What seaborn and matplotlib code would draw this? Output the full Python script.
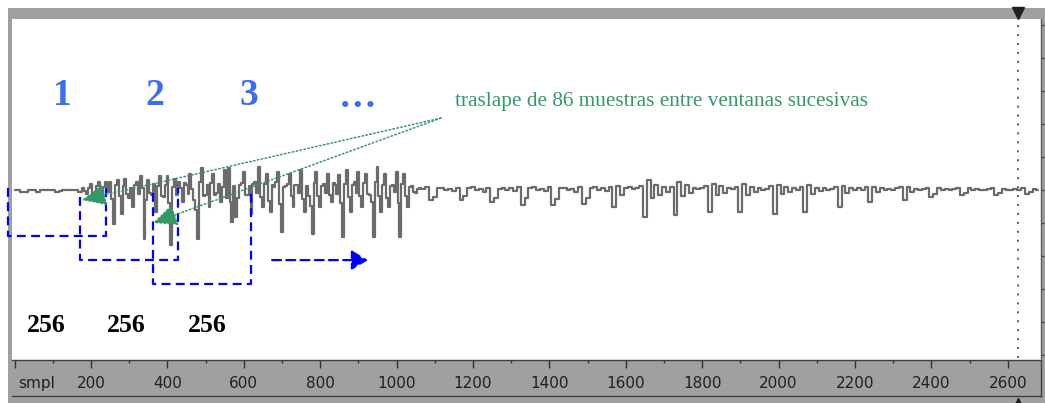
import matplotlib
matplotlib.use("Agg")
import matplotlib.pyplot as plt
import seaborn as sns
import pandas as pd
from matplotlib.patches import Rectangle
from matplotlib.ticker import FixedLocator, FixedFormatter

# ---------------------------------------------------------------- data
# int16 amplitude units; the burst is stored at a finer sample step
head_step, burst_step, tail_step = 10, 5, 10

amplitude_head = [  # samples 0..170, silence before the onset
    0, 0, -300, -400, 0, 100, -400, 0, 0, 100, 0, -400, -200, 0, 100, 0, 0, -400,
]
amplitude_burst = [  # samples 180..1055, voiced burst
    300, -200, -800, 400, 1200, -600, -1500, 800, 1500, -900,
    -2000, 600, 1600, -300, 1500, -1800, -6600, 900, 2000, -1200,
    -4600, 700, 2100, -800, -1500, 400, -3300, 1000, 1500, -700,
    2700, 300, -9500, -2000, 1900, -600, -1000, 1200, -4300, 800,
    2700, -1100, -1400, 900, 2700, -2500, -10700, 600, 2100, -900,
    1500, 400, -2300, 1300, 1000, -800, 3100, 200, -2000, -3800,
    -9500, 1500, 4300, -1200, -1000, 900, -3300, 1400, 3100, -900,
    -500, 1100, -2300, 600, 3900, -1500, 4300, -2400, -6200, 800,
    -5300, -1600, 1000, 1400, 3500, -900, -1000, 700, -4600, 1200,
    1500, -500, 4500, -1300, -3300, 1100, 3100, -2200, -4300, 900,
    500, 1500, 3500, -2800, -8100, 600, 800, 1200, 3100, -1100,
    -3300, 900, 1000, -600, 3900, -1800, -4300, 700, -1200, -3000,
    -8500, 1400, 3500, -1200, -3300, 800, 1200, -500, 3100, -1000,
    -2300, 1300, 1000, -700, 2900, -2600, -9100, 1200, 3900, -1400,
    -4300, 900, 1500, -600, 3500, -1100, -3300, 1300, 3100, -800,
    -1000, -2400, -9100, 1600, 4500, -1200, -4300, 1000, 3100, -1500,
    -3300, 800, 1000, -400, 3500, -2600, -9100, 1100, 3100, -1200,
    -3300, 600, 800, -300, -500, 200,
]
amplitude_tail = [  # samples 1060..2680, decaying tail with periodic pulses
    300, 200, 500, -1900, -1400, 300, 400, 0, 200, -200,
    400, -1900, -1200, 300, 500, 100, 200, -300, 400, -2300,
    -1500, 200, 400, 0, 300, -200, 500, -2900, -1600, 300,
    500, 100, 200, -200, 500, -2900, -1700, 300, 400, 0,
    200, -300, 600, -2700, -1500, 400, 500, 100, 300, -200,
    600, -3300, 800, -900, 300, 500, 200, 300, 700, -5200,
    1900, -1500, 1000, -1000, 600, -300, 500, -4800, 1500, -1200,
    900, -600, 400, 200, 300, 800, -4300, 1200, -1000, 700,
    -500, 300, 200, 600, -4300, 1100, -900, 600, -300, 300,
    100, 200, 700, -4700, 1000, -800, 500, -300, 300, 100,
    600, -4300, 900, -700, 400, -200, 300, 100, 200, 600,
    -3300, 700, -600, 300, 0, 300, 100, 500, -2300, 600,
    -400, 300, 100, 200, 0, 300, 500, -1900, 500, -300,
    200, 0, 200, 400, -1400, -800, 300, 100, 200, 0,
    200, 400, -1000, -600, 300, 0, 200, 100, 0, 200,
    400, -1000, -500, 200, 100, 0, 200, 0, 400, -800,
    -300, 200, 100,
]

burst_start = len(amplitude_head) * head_step
tail_start = burst_start + len(amplitude_burst) * burst_step
samples = ([i * head_step for i in range(len(amplitude_head))]
           + [burst_start + i * burst_step for i in range(len(amplitude_burst))]
           + [tail_start + i * tail_step for i in range(len(amplitude_tail))])
amplitude = amplitude_head + amplitude_burst + amplitude_tail

# analysis windows: start sample, length, side heights and depth
window_len = 256
window_start = [-17, 171, 362]
window_top_left = [390, -1360, -580]
window_top_right = [390, 390, -580]
window_bottom = [-8900, -13600, -18200]
window_labels = ["1", "2", "3"]
overlap = 86

# ruler ticks
major_ticks = [0, 200, 400, 600, 800, 1000, 1200, 1400, 1600, 1800, 2000,
               2200, 2400, 2600]
major_labels = ["", "200", "400", "600", "800", "1000", "1200", "1400",
                "1600", "1800", "2000", "2200", "2400", "2600"]
minor_ticks = [100, 300, 500, 700, 900, 1100, 1300, 1500, 1700, 1900, 2100,
               2300, 2500]
cursor_sample = 2627

# ---------------------------------------------------------------- figure
sns.set_theme(style="white")
plt.rcParams["font.family"] = ["DejaVu Sans"]

W, H = 1045, 403
fig = plt.figure(figsize=(W / 100, H / 100), dpi=100)
fig.patch.set_facecolor("white")

FRAME = "#a0a0a0"


def frame_box(x0, y0, x1, y1, color=FRAME):
    fig.patches.append(Rectangle((x0 / W, 1 - y1 / H), (x1 - x0) / W,
                                 (y1 - y0) / H, transform=fig.transFigure,
                                 facecolor=color, edgecolor="none",
                                 zorder=-5))


# window frame of the editor
frame_box(8, 8, W, 19)
frame_box(8, 8, 12, H)
frame_box(1041, 8, W, H)
frame_box(8, 396, W, H)
frame_box(12, 19, 1041, 20.5, "#e4e4e4")
frame_box(12, 19, 13.5, 358, "#e4e4e4")

XLIM = (-7, 2687)
YLIM = (-32600, 33200)

ax = fig.add_axes([12 / W, 1 - 358 / H, 1029 / W, 339 / H])
ax.set_facecolor("white")
ax.set_xlim(*XLIM)
ax.set_ylim(*YLIM)
for s in ax.spines.values():
    s.set_visible(False)
ax.spines["right"].set_visible(True)
ax.spines["right"].set_color("#5a5a5a")
ax.spines["right"].set_linewidth(1)
ax.set_xticks([])
ax.yaxis.tick_right()
ax.set_yticks([-32000, -25600, -19200, -12800, -6400, 0, 6400, 12800,
               19200, 25600, 32000])
ax.tick_params(axis="y", direction="out", length=2.5, width=1,
               color="#404040", labelright=False, right=True, left=False)

df = pd.DataFrame({"sample": samples, "amplitude": amplitude})
sns.lineplot(data=df, x="sample", y="amplitude", ax=ax, color="#6b6b6b",
             lw=1.6, drawstyle="steps-mid", estimator=None, sort=False)
ax.set_xlabel("")
ax.set_ylabel("")

# cursor
ax.axvline(cursor_sample, color="#5a5a5a", lw=1.4, ls=(0, (1, 3.6)))
ax.plot([cursor_sample], [34400], marker="v", ms=8, color="#202020",
        clip_on=False)

# analysis windows
BLUE = "#0000ff"
DASH = (0, (4, 2.4))
for start, tl, tr, bot in zip(window_start, window_top_left,
                              window_top_right, window_bottom):
    ax.plot([start, start, start + window_len, start + window_len],
            [tl, bot, bot, tr], color=BLUE, lw=1.6, ls=DASH, clip_on=False,
            solid_capstyle="butt", dash_capstyle="butt")

ax.annotate("", xy=(925, window_bottom[1]), xytext=(674, window_bottom[1]),
            arrowprops=dict(arrowstyle="-|>,head_length=0.5,head_width=0.3",
                            color=BLUE, lw=1.6, ls=DASH, mutation_scale=20,
                            shrinkA=0, shrinkB=0))

NUM_BLUE = "#3a6cf5"
for xpos, lab in zip([124, 368, 614], window_labels):
    ax.text(xpos, 18400, lab, color=NUM_BLUE, fontsize=27, fontweight="bold",
            family="Liberation Serif", ha="center", va="center")
ax.text(899, 16100, "\u2026", color=NUM_BLUE, fontsize=27, fontweight="bold",
        family="Liberation Serif", ha="center", va="baseline")

for xpos in [82, 292, 504]:
    ax.text(xpos, -26300, str(window_len), color="black", fontsize=18.5,
            fontweight="bold", family="Liberation Serif", ha="center",
            va="center")

# overlap note
GREEN = "#339966"
ax.text(1153, 17270, f"traslape de {overlap} muestras entre ventanas sucesivas",
        color=GREEN, fontsize=15.3, family="Liberation Serif", ha="left",
        va="center")
origin = (1116, 13970)
for tip in [(176, -1940), (362, -6400)]:
    ax.annotate("", xy=tip, xytext=origin,
                arrowprops=dict(arrowstyle="-|>,head_length=0.75,head_width=0.34",
                                color=GREEN, lw=1.1, ls=(0, (1, 1.6)),
                                mutation_scale=20, shrinkA=0, shrinkB=0))

# sample ruler
axr = fig.add_axes([12 / W, 1 - 396 / H, 1029 / W, 36.5 / H])
axr.set_facecolor(FRAME)
axr.set_xlim(*XLIM)
axr.set_ylim(0, 1)
axr.set_yticks([])
axr.xaxis.set_major_locator(FixedLocator(major_ticks))
axr.xaxis.set_major_formatter(FixedFormatter(major_labels))
axr.xaxis.set_minor_locator(FixedLocator(minor_ticks))
axr.tick_params(axis="x", which="both", direction="in", top=True,
                bottom=False, labeltop=False, labelbottom=True,
                color="#303030", width=1, labelsize=11, labelcolor="#202020")
axr.tick_params(axis="x", which="major", length=5.5, pad=-14.5)
axr.tick_params(axis="x", which="minor", length=2.5)
for side, s in axr.spines.items():
    s.set_color("#404040")
    s.set_linewidth(1)
axr.spines["left"].set_visible(False)
axr.text(9, 0.33, "smpl", fontsize=11, color="#202020", ha="left",
         va="center")
axr.plot([cursor_sample], [-0.15], marker="^", ms=5, color="#202020",
         clip_on=False)

fig.savefig("out.png", dpi=100)
